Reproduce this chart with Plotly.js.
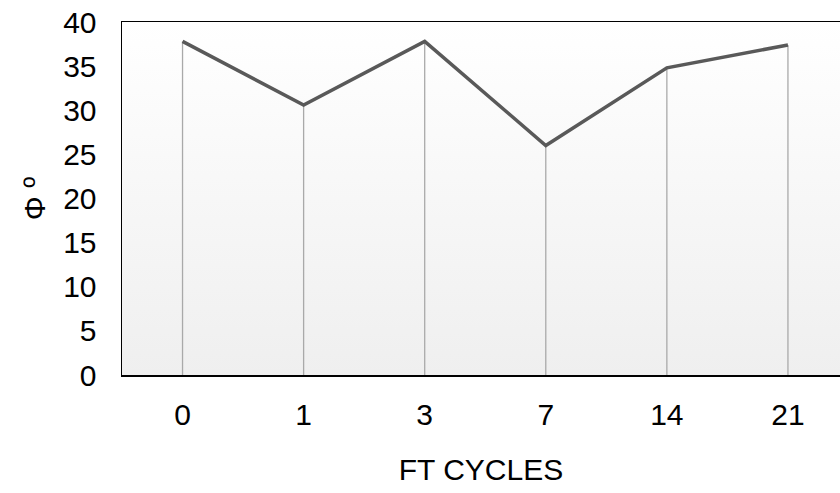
<!DOCTYPE html>
<html>
<head>
<meta charset="utf-8">
<script src="https://cdn.plot.ly/plotly-3.0.1.min.js"></script>
<style>html,body{margin:0;padding:0;background:#fff;}#chart{width:840px;height:493px;}</style>
</head>
<body>
<div id="chart"></div>
<script>
const categories = ["0", "1", "3", "7", "14", "21"];
const phiValues = [37.8, 30.6, 37.8, 26.0, 34.8, 37.4];
const yTicks = [0, 5, 10, 15, 20, 25, 30, 35, 40];

const dropX = [], dropY = [];
categories.forEach((c, i) => { dropX.push(c, c, null); dropY.push(phiValues[i], 0, null); });

const gradSvg = '<svg xmlns="http://www.w3.org/2000/svg" width="100" height="100" preserveAspectRatio="none">' +
  '<defs><linearGradient id="g" x1="0" y1="0" x2="0" y2="1"><stop offset="0" stop-color="#ffffff"/><stop offset="1" stop-color="#efefef"/></linearGradient></defs>' +
  '<rect width="100" height="100" fill="url(#g)"/></svg>';
const gradUri = 'data:image/svg+xml;base64,' + btoa(gradSvg);

const font = "Liberation Sans, Arial, sans-serif";
const fs = 30;

const traces = [
  { x: dropX, y: dropY, type: 'scatter', mode: 'lines', line: {color: '#a9a9a9', width: 1.3}, hoverinfo: 'skip', showlegend: false },
  { x: categories, y: phiValues, type: 'scatter', mode: 'lines', line: {color: '#595959', width: 3.5}, showlegend: false }
];

const layout = {
  width: 840, height: 493,
  margin: {l: 122, r: 0, t: 22, b: 118},
  paper_bgcolor: '#ffffff',
  plot_bgcolor: 'rgba(0,0,0,0)',
  font: {family: font, color: '#000', size: fs},
  images: [{source: gradUri, xref: 'paper', yref: 'paper', x: 0, y: 1, sizex: 1, sizey: 1, sizing: 'stretch', layer: 'below', xanchor: 'left', yanchor: 'top'}],
  xaxis: {
    type: 'category', categoryorder: 'array', categoryarray: categories,
    range: [-0.5, 5.43],
    showline: true, linecolor: '#000', linewidth: 1.5, mirror: true,
    showgrid: false, zeroline: false, ticks: '',
    ticklabelstandoff: 12,
    tickfont: {family: font, size: fs, color: '#000'},
    title: {text: 'FT CYCLES', font: {family: font, size: fs, color: '#000'}, standoff: 29}
  },
  yaxis: {
    range: [0, 40], tickvals: yTicks, ticktext: yTicks.map(String),
    showline: true, linecolor: '#000', linewidth: 1.5,
    showgrid: false, zeroline: false, ticks: '',
    ticklabelstandoff: 18,
    tickfont: {family: font, size: fs, color: '#000'},
    title: {text: 'Φ º', font: {family: font, size: fs, color: '#000'}, standoff: 8}
  }
};

Plotly.newPlot('chart', traces, layout, {staticPlot: true, displayModeBar: false});
</script>
</body>
</html>
